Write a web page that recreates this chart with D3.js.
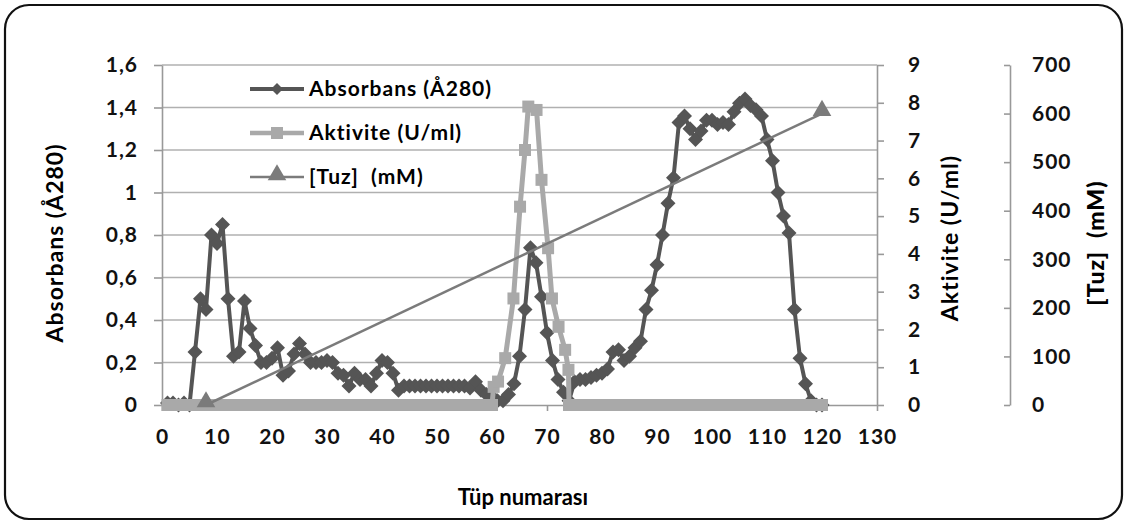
<!DOCTYPE html>
<html><head><meta charset="utf-8">
<script src="https://cdn.jsdelivr.net/npm/d3@7"></script>
<style>
html,body{margin:0;padding:0;background:#fff;}
svg{display:block;font-family:Lato,"Open Sans",sans-serif;}
</style></head>
<body>
<svg id="c" width="1128" height="525"></svg>
<script>
// ---- data ----
const absTube = [1,2,3,4,5,6,7,8,9,10,11,12,13,14,15,16,17,18,19,20,21,22,23,24,25,26,27,28,29,30,31,32,33,34,35,36,37,38,39,40,41,42,43,44,45,46,47,48,49,50,51,52,53,54,55,56,57,58,59,60,61,62,63,64,65,66,67,68,69,70,71,72,73,74,75,76,77,78,79,80,81,82,83,84,85,86,87,88,89,90,91,92,93,94,95,96,97,98,99,100,101,102,103,104,105,106,107,108,109,110,111,112,113,114,115,116,117,118,119,120];
const absValue = [0.01,0.01,0.0,0.01,0.0,0.25,0.50,0.45,0.80,0.76,0.85,0.50,0.23,0.25,0.49,0.36,0.28,0.20,0.20,0.22,0.27,0.14,0.16,0.24,0.29,0.24,0.20,0.20,0.20,0.21,0.20,0.15,0.14,0.09,0.15,0.12,0.12,0.09,0.15,0.21,0.20,0.15,0.07,0.09,0.09,0.09,0.09,0.09,0.09,0.09,0.09,0.09,0.09,0.09,0.09,0.08,0.11,0.07,0.05,0.04,0.02,0.02,0.05,0.10,0.23,0.45,0.74,0.67,0.51,0.34,0.21,0.12,0.06,0.02,0.11,0.12,0.12,0.13,0.14,0.15,0.17,0.25,0.26,0.21,0.23,0.27,0.30,0.45,0.54,0.66,0.80,0.95,1.07,1.33,1.36,1.30,1.25,1.29,1.34,1.34,1.32,1.33,1.32,1.38,1.42,1.44,1.41,1.39,1.36,1.25,1.15,1.00,0.89,0.81,0.45,0.22,0.10,0.02,0.0,0.0];
const actTube = [1,2,3,4,5,6,7,8,9,10,11,12,13,14,15,16,17,18,19,20,21,22,23,24,25,26,27,28,29,30,31,32,33,34,35,36,37,38,39,40,41,42,43,44,45,46,47,48,49,50,51,52,53,54,55,56,57,58,59,60,60.3,61.1,62.4,63.9,65.1,66,66.6,68.1,69,70.2,70.9,72.1,73.3,73.9,74,75,76,77,78,79,80,81,82,83,84,85,86,87,88,89,90,91,92,93,94,95,96,97,98,99,100,101,102,103,104,105,106,107,108,109,110,111,112,113,114,115,116,117,118,119,120];
const actValue = [0,0,0,0,0,0,0,0,0,0,0,0,0,0,0,0,0,0,0,0,0,0,0,0,0,0,0,0,0,0,0,0,0,0,0,0,0,0,0,0,0,0,0,0,0,0,0,0,0,0,0,0,0,0,0,0,0,0,0,0,0.48,0.62,1.24,2.82,5.25,6.75,7.9,7.81,5.96,4.15,2.82,2.07,1.46,0.93,0,0,0,0,0,0,0,0,0,0,0,0,0,0,0,0,0,0,0,0,0,0,0,0,0,0,0,0,0,0,0,0,0,0,0,0,0,0,0,0,0,0,0,0,0,0,0];
const saltTube = [8,120];
const saltValue = [0,600];
const xTicks = [0,10,20,30,40,50,60,70,80,90,100,110,120,130];
const absTicks = [0,0.2,0.4,0.6,0.8,1,1.2,1.4,1.6];
const actTicks = [0,1,2,3,4,5,6,7,8,9];
const saltTicks = [0,100,200,300,400,500,600,700];
const legendNames = ["Absorbans (Å280)","Aktivite (U/ml)","[Tuz]  (mM)"];

const svg = d3.select("#c");
const L=162,R=877,T=65,B=405;
const x = d3.scaleLinear().domain([0,130]).range([L,R]);
const yA = d3.scaleLinear().domain([0,1.6]).range([B,T]);
const yK = d3.scaleLinear().domain([0,9]).range([B,T]);
const yS = d3.scaleLinear().domain([0,700]).range([B,T]);
const fmt = d => String(d).replace(".",",");

// frame
svg.append("rect").attr("x",5).attr("y",5).attr("width",1117).attr("height",514)
  .attr("rx",24).attr("fill","#fff").attr("stroke","#111").attr("stroke-width",2.2);

// grid
svg.append("g").selectAll("line").data(absTicks.filter(d=>d>0)).join("line")
  .attr("x1",L).attr("x2",R).attr("y1",d=>yA(d)).attr("y2",d=>yA(d))
  .attr("stroke","#b0b0b0").attr("stroke-width",1.6);

function styleAxis(g){
  g.selectAll(".domain").attr("stroke","#999").attr("stroke-width",1.6);
  g.selectAll(".tick line").attr("stroke","#999").attr("stroke-width",1.6);
  g.selectAll("text").attr("fill","#111").style("font-size","21px").style("font-weight","700")
    .style("font-family","Lato").style("letter-spacing","1px");
}
const gx = svg.append("g").attr("transform",`translate(0,${B})`)
  .call(d3.axisBottom(x).tickValues(xTicks).tickSize(6).tickSizeOuter(0).tickPadding(18));
styleAxis(gx);
const gl = svg.append("g").attr("transform",`translate(${L},0)`)
  .call(d3.axisLeft(yA).tickValues(absTicks).tickFormat(fmt).tickSize(8).tickSizeOuter(0).tickPadding(16));
styleAxis(gl);
const gr = svg.append("g").attr("transform",`translate(${R},0)`)
  .call(d3.axisRight(yK).tickValues(actTicks).tickSize(7).tickSizeOuter(0).tickPadding(24));
styleAxis(gr);
const gs = svg.append("g").attr("transform",`translate(1010,0)`)
  .call(d3.axisLeft(yS).tickValues(saltTicks).tickSize(6).tickSizeOuter(0));
styleAxis(gs);
gs.selectAll(".tick text").attr("text-anchor","start").attr("x",22);

// axis titles
const tStyle = s => s.style("font-size","23px").style("font-weight","700").style("letter-spacing","1px").attr("text-anchor","middle");
svg.append("text").attr("transform","translate(63,243) rotate(-90)").call(tStyle).text("Absorbans (Å280)");
svg.append("text").attr("transform","translate(958,238) rotate(-90)").call(tStyle).text("Aktivite (U/ml)");
svg.append("text").attr("transform","translate(1104,243) rotate(-90)").call(tStyle).style("font-weight","900")
  .attr("xml:space","preserve").text("[Tuz]  (mM)");
svg.append("text").attr("x",523).attr("y",505).call(tStyle).style("font-size","22px").style("letter-spacing","0px").text("Tüp numarası");

const cAbs="#555555", cAct="#a9a9a9", cSalt="#7b7b7b";
const diamond = (s)=>`M0,${-s}L${s},0L0,${s}L${-s},0Z`;
const square = (s)=>`M${-s},${-s}H${s}V${s}H${-s}Z`;
const tri = d3.symbol().type(d3.symbolTriangle).size(150);

// Absorbans
const absData = absTube.map((t,i)=>[t,absValue[i]]);
svg.append("path").attr("d",d3.line().x(d=>x(d[0])).y(d=>yA(d[1]))(absData))
  .attr("fill","none").attr("stroke",cAbs).attr("stroke-width",4).attr("stroke-linejoin","round");
svg.append("g").selectAll("path").data(absData).join("path")
  .attr("transform",d=>`translate(${x(d[0])},${yA(d[1])})`).attr("d",diamond(7.5)).attr("fill",cAbs);

// Aktivite
const actData = actTube.map((t,i)=>[t,actValue[i]]);
svg.append("path").attr("d",d3.line().x(d=>x(d[0])).y(d=>yK(d[1]))(actData))
  .attr("fill","none").attr("stroke",cAct).attr("stroke-width",5).attr("stroke-linejoin","round");
svg.append("g").selectAll("path").data(actData).join("path")
  .attr("transform",d=>`translate(${x(d[0])},${yK(d[1])})`).attr("d",square(6)).attr("fill",cAct);

// Tuz
const saltData = saltTube.map((t,i)=>[t,saltValue[i]]);
svg.append("path").attr("d",d3.line().x(d=>x(d[0])).y(d=>yS(d[1]))(saltData))
  .attr("fill","none").attr("stroke",cSalt).attr("stroke-width",2.5);
svg.append("g").selectAll("path").data(saltData).join("path")
  .attr("transform",d=>`translate(${x(d[0])},${yS(d[1])-3})`).attr("d",tri).attr("fill",cSalt);

// legend
const lg = svg.append("g");
const lgY=[89,133,177], cols=[cAbs,cAct,cSalt], sw=[4,4.5,2.5];
legendNames.forEach((n,i)=>{
  lg.append("line").attr("x1",250).attr("x2",304).attr("y1",lgY[i]).attr("y2",lgY[i])
    .attr("stroke",cols[i]).attr("stroke-width",sw[i]);
  const m = lg.append("path").attr("fill",cols[i]);
  if(i==0) m.attr("transform",`translate(277,${lgY[i]})`).attr("d",diamond(6));
  else if(i==1) m.attr("transform",`translate(277,${lgY[i]})`).attr("d",square(6));
  else m.attr("transform",`translate(277,${lgY[i]-2})`).attr("d",tri);
  lg.append("text").attr("x",309).attr("y",lgY[i]+7).style("font-size","21px").style("font-weight","700")
    .style("letter-spacing","1px").attr("xml:space","preserve").text(n);
});
</script>
</body></html>
